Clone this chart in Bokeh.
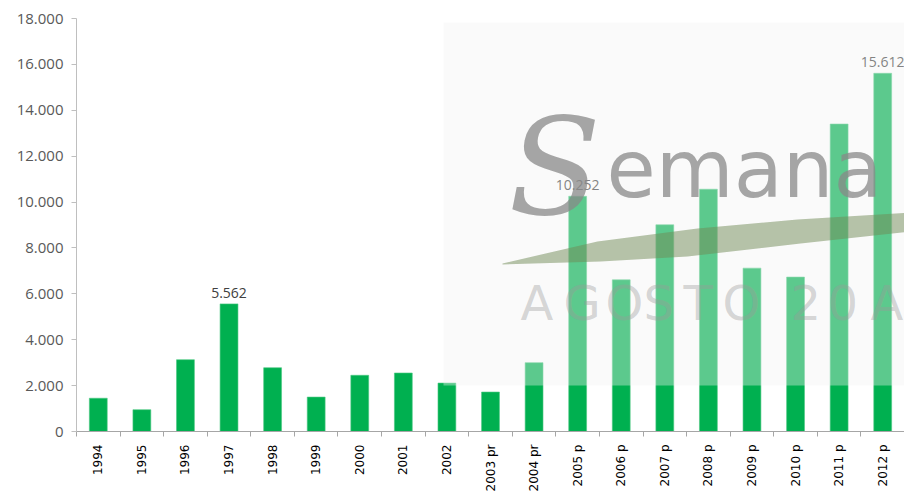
from bokeh.plotting import figure
from bokeh.models import FixedTicker, Range1d, ColumnDataSource
from bokeh.core.properties import value
from bokeh.embed import file_html
from bokeh.resources import INLINE

# ---- data ----
categories = ["1994", "1995", "1996", "1997", "1998", "1999", "2000", "2001", "2002",
              "2003 pr", "2004 pr", "2005 p", "2006 p", "2007 p", "2008 p", "2009 p",
              "2010 p", "2011 p", "2012 p"]
values = [1450, 950, 3130, 5562, 2780, 1500, 2450, 2550, 2110,
          1720, 3000, 10252, 6610, 9010, 10560, 7120, 6730, 13400, 15612]
labelled = ["1997", "2005 p", "2012 p"]
y_ticks = [0, 2000, 4000, 6000, 8000, 10000, 12000, 14000, 16000, 18000]
y_tick_labels = ["0", "2.000", "4.000", "6.000", "8.000", "10.000", "12.000",
                 "14.000", "16.000", "18.000"]

N = len(categories)
W, H = 904, 496
LEFT, TOP = 76, 18
FW, FH = W - LEFT, 413
BOTTOM = H - TOP - FH
YMAX = 18000

p = figure(width=W, height=H, output_backend="svg", toolbar_location=None,
           x_range=Range1d(-0.5, N - 0.5), y_range=Range1d(0, YMAX),
           min_border_left=LEFT, min_border_right=0, min_border_top=TOP,
           min_border_bottom=BOTTOM)
p.outline_line_color = None
p.xgrid.visible = False
p.ygrid.visible = False

xs = list(range(N))
src = ColumnDataSource(dict(x=xs, top=values))
p.vbar(x="x", top="top", width=0.41, bottom=0, source=src,
       fill_color="#00B050", line_color="#4cc882", line_width=0.6)

lab_x = [categories.index(c) for c in labelled]
lab_y = [values[i] for i in lab_x]
lab_t = [f"{values[i]:,}".replace(",", ".") for i in lab_x]
p.text(x=lab_x, y=lab_y, text=lab_t, text_align="center", text_baseline="bottom",
       y_offset=-6, text_font=value("Open Sans"), text_font_size="14px",
       text_color="#404040")

# ---- watermark decoration (page pixel -> data) ----
def dx(xp):
    return (xp - LEFT) / FW * N - 0.5

def dy(yp):
    return (TOP + FH - yp) / FH * YMAX

p.quad(left=[dx(443)], right=[dx(920)], bottom=[dy(385)], top=[dy(22)],
       fill_color="#f3f3f3", fill_alpha=0.38, line_color=None)

sw_px = [(502, 263), (597, 241), (697, 228), (797, 219), (910, 212),
         (910, 231), (800, 243), (687, 256), (600, 261), (502, 264)]
p.patch([dx(a) for a, b in sw_px], [dy(b) for a, b in sw_px],
        fill_color="#6f8a55", fill_alpha=0.5, line_color=None)

p.text(x=[dx(508)], y=[dy(167)], text=["S"], text_font=value("DejaVu Serif"),
       text_font_style="italic", text_font_size="135px", text_color="#888888",
       text_alpha=0.75, text_baseline="alphabetic")
p.text(x=[dx(606)], y=[dy(169)], text=["emana"], text_font=value("DejaVu Sans"),
       text_font_size="80px", text_color="#888888", text_alpha=0.75,
       text_baseline="alphabetic")
ag_letters = ["A", "G", "O", "S", "T", "O", "2", "0", "A"]
ag_px = [520, 563, 605, 643, 683, 722, 790, 827, 870]
p.text(x=[dx(a) for a in ag_px], y=[dy(302)] * len(ag_px), text=ag_letters,
       text_font=value("DejaVu Sans"), text_font_size="48px",
       text_color="#9a9a9a", text_alpha=0.4, text_baseline="alphabetic")

# ---- axes ----
xa = p.xaxis[0]
xa.ticker = FixedTicker(ticks=xs, minor_ticks=[i - 0.5 for i in range(N + 1)])
xa.major_label_overrides = {i: c for i, c in enumerate(categories)}
xa.major_label_orientation = 1.5708
xa.major_tick_out = 0
xa.major_tick_in = 0
xa.minor_tick_out = 5
xa.minor_tick_in = 0
xa.major_label_standoff = 8
xa.major_label_text_font = "DejaVu Sans"
xa.major_label_text_font_size = "12px"
xa.major_label_text_color = "#000000"
xa.axis_line_color = "#a6a6a6"
xa.minor_tick_line_color = "#a6a6a6"

ya = p.yaxis[0]
ya.ticker = FixedTicker(ticks=y_ticks)
ya.major_label_overrides = dict(zip(y_ticks, y_tick_labels))
ya.major_tick_out = 5
ya.major_tick_in = 0
ya.minor_tick_line_color = None
ya.major_label_standoff = 8
ya.major_label_text_font = "Open Sans"
ya.major_label_text_font_size = "15px"
ya.major_label_text_color = "#595959"
ya.axis_line_color = "#bfbfbf"
ya.major_tick_line_color = "#bfbfbf"

open("out.html", "w").write(file_html(p, INLINE))
